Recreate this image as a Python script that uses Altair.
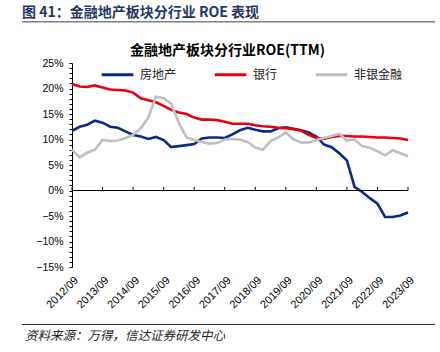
import altair as alt
import pandas as pd

# ---- data (quarterly, 2012/09 .. 2023/09) ----
tick_labels = ["2012/09", "2013/09", "2014/09", "2015/09", "2016/09", "2017/09",
               "2018/09", "2019/09", "2020/09", "2021/09", "2022/09", "2023/09"]
quarter_index = list(range(45))
real_estate = [11.7, 12.5, 12.9, 13.7, 13.3, 12.5, 12.3, 11.6, 10.9, 10.6,
               10.1, 10.5, 9.9, 8.5, 8.7, 8.9, 9.1, 10.2, 10.4, 10.4,
               10.3, 11.0, 11.8, 12.3, 11.9, 11.6, 11.6, 12.2, 12.4, 12.1,
               11.8, 11.4, 10.6, 9.0, 8.5, 7.3, 5.9, 0.7, -0.3, -1.5,
               -2.6, -5.2, -5.2, -4.9, -4.3]
banks = [20.9, 20.4, 20.3, 20.6, 20.2, 19.8, 19.7, 19.6, 19.2, 18.1,
         17.7, 17.3, 16.6, 15.8, 15.3, 15.0, 14.3, 13.9, 13.9, 13.8,
         13.5, 13.1, 13.1, 13.1, 12.8, 12.6, 12.5, 12.3, 12.2, 12.0,
         11.7, 10.9, 10.3, 10.1, 10.5, 10.7, 10.7, 10.6, 10.6, 10.5,
         10.4, 10.4, 10.3, 10.2, 9.9]
nonbank = [8.0, 6.5, 7.4, 8.0, 9.9, 9.7, 9.8, 10.3, 10.9, 12.2,
           14.3, 18.4, 18.1, 17.0, 13.2, 10.4, 9.9, 9.5, 9.2, 9.3,
           10.0, 10.1, 10.0, 9.5, 8.4, 8.0, 9.7, 10.4, 11.4, 10.0,
           9.4, 9.4, 9.9, 10.3, 10.7, 11.1, 9.8, 10.0, 8.7, 8.4,
           7.7, 6.9, 7.9, 7.3, 6.7]
series_names = ["房地产", "银行", "非银金融"]
series_colors = ["#0B2A84", "#E60012", "#BFBFBF"]
y_ticks = list(range(-15, 26))
x_ticks = list(range(0, 45, 4))

header_text = "图 41：金融地产板块分行业 ROE 表现"
chart_title = "金融地产板块分行业ROE(TTM)"
source_text = "资料来源：万得，信达证券研发中心"

rows = []
for name, vals in zip(series_names, [real_estate, banks, nonbank]):
    for q, v in zip(quarter_index, vals):
        rows.append({"q": q, "v": v, "s": name})
df = pd.DataFrame(rows)

CJK = "Noto Sans CJK SC"
LAT = "Liberation Sans"

label_js = "[" + ",".join("'%s'" % t for t in tick_labels) + "]"

x_scale = alt.Scale(domain=[0, 44], nice=False, zero=False)
y_scale = alt.Scale(domain=[-15, 25], nice=False, zero=False)
x_axis = alt.Axis(values=x_ticks,
                  labelExpr=label_js + "[round(datum.value/4)]",
                  labelAngle=-45, ticks=False, domain=False, grid=False,
                  labelFont=LAT, labelFontSize=11, labelColor="black",
                  labelPadding=7, labelOverlap=False, labelFlush=False,
                  labelBound=False, title=None)
y_axis = alt.Axis(values=y_ticks,
                  labelExpr="datum.value % 5 == 0 ? format(datum.value, 'd') + '%' : ''",
                  ticks=True, tickSize=3, grid=False, domain=True,
                  domainColor="black", tickColor="black",
                  labelFont=LAT, labelFontSize=10.5, labelColor="black",
                  labelPadding=6, labelOverlap=False, labelFlush=False,
                  labelBound=False, title=None)

lines = alt.Chart(df).mark_line(strokeWidth=2.6).encode(
    x=alt.X("q:Q", scale=x_scale, axis=x_axis),
    y=alt.Y("v:Q", scale=y_scale, axis=y_axis),
    color=alt.Color("s:N",
                    scale=alt.Scale(domain=series_names, range=series_colors),
                    sort=series_names,
                    legend=alt.Legend(orient="none", legendX=28, legendY=-6,
                                      direction="horizontal", title=None,
                                      symbolType="stroke", symbolSize=1000,
                                      symbolStrokeWidth=3, labelFont=CJK,
                                      labelFontSize=12, labelColor="#222222",
                                      labelOffset=5, columnPadding=31, padding=0)),
)

zero_line = alt.Chart(pd.DataFrame({"z": [0]})).mark_rule(
    color="black", strokeWidth=1).encode(
    y=alt.Y("z:Q", scale=y_scale, axis=y_axis))

year_ticks = alt.Chart(pd.DataFrame({"q": x_ticks, "a": [0] * len(x_ticks),
                                     "b": [0.7] * len(x_ticks)})).mark_rule(
    color="black", strokeWidth=1).encode(
    x=alt.X("q:Q", scale=x_scale, axis=x_axis),
    y=alt.Y("a:Q", scale=y_scale, axis=y_axis), y2="b:Q")

header = alt.Chart(pd.DataFrame({"t": [header_text]})).mark_text(
    align="left", baseline="middle", font=CJK, fontSize=14, fontWeight="bold",
    color="#1F3864").encode(text="t:N", x=alt.value(-50), y=alt.value(-50.5))

header_line = alt.Chart(pd.DataFrame({"a": [0]})).mark_rule(
    color="#7F7F7F", strokeWidth=1.5).encode(
    x=alt.value(-50), x2=alt.value(363), y=alt.value(-41.3))

title = alt.Chart(pd.DataFrame({"t": [chart_title]})).mark_text(
    align="center", baseline="middle", font=CJK, fontSize=14, fontWeight="bold",
    color="black").encode(text="t:N", x=alt.value(155.5), y=alt.value(-12))

footer_line = alt.Chart(pd.DataFrame({"a": [0]})).mark_rule(
    color="#333333", strokeWidth=1).encode(
    x=alt.value(-50), x2=alt.value(363), y=alt.value(261.5))

footer = alt.Chart(pd.DataFrame({"t": [source_text]})).mark_text(
    align="left", baseline="middle", font=CJK, fontSize=12.5, fontStyle="italic",
    color="#222222").encode(text="t:N", x=alt.value(-47), y=alt.value(272.5))

chart = alt.layer(lines, zero_line, year_ticks, header, header_line, title,
                  footer_line, footer).properties(
    width=336, height=204,
    padding={"left": 72, "top": 63, "right": 32, "bottom": 85},
    autosize=alt.AutoSizeParams(type="none"),
).configure_view(stroke=None)

chart.save("out.html", embed_options={"renderer": "svg", "actions": False})
